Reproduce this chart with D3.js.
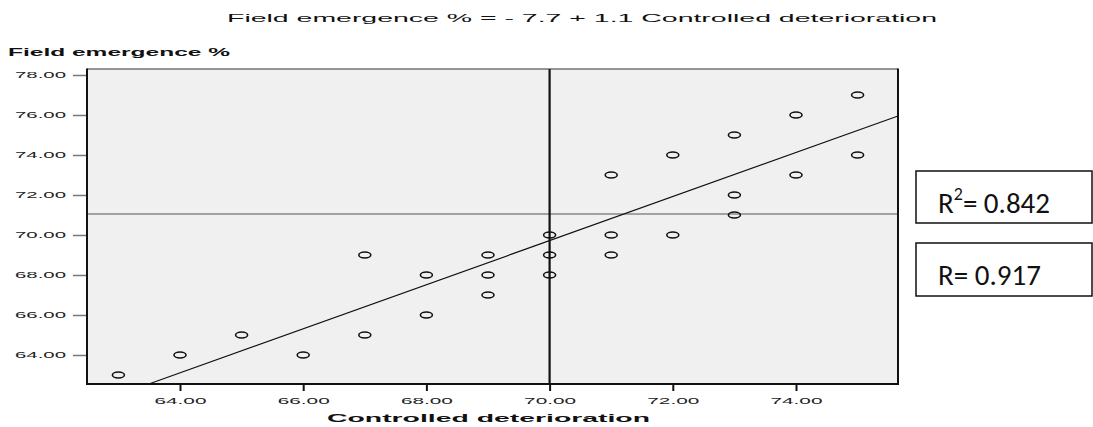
<!DOCTYPE html>
<html><head><meta charset="utf-8">
<script src="https://cdn.jsdelivr.net/npm/d3@7/dist/d3.min.js"></script>
<style>body{margin:0;background:#fff;}svg{display:block;}</style>
</head><body>
<svg id="c" width="1093" height="427"></svg>
<script>
const xValues = [63,64,65,66,67,67,68,68,69,69,69,70,70,70,71,71,71,72,72,73,73,73,74,74,75,75];
const yValues = [63,64,65,64,69,65,68,66,69,68,67,70,69,68,73,70,69,74,70,75,72,71,76,73,77,74];
const xTicks = [64,66,68,70,72,74];
const yTicks = [64,66,68,70,72,74,76,78];
const fitIntercept = -7.42, fitSlope = 1.102;
const meanX = 70.0, meanY = 71.05;
const titleText = "Field emergence % = - 7.7 + 1.1 Controlled deterioration";
const yLabel = "Field emergence %";
const xLabel = "Controlled deterioration";
const r2Text = "0.842", rText = "0.917";

const svg = d3.select("#c");
const L = 87, R = 898, T = 69, B = 384;
const x = d3.scaleLinear().domain([64, 74]).range([180, 796]);
const y = d3.scaleLinear().domain([64, 78]).range([355, 75]);
const xMin = x.invert(L), xMax = x.invert(R);

svg.append("rect").attr("x", L).attr("y", T).attr("width", R - L).attr("height", B - T).attr("fill", "#f0f0f0");

// mean lines
svg.append("line").attr("x1", L).attr("x2", R).attr("y1", y(meanY)).attr("y2", y(meanY)).attr("stroke", "#888").attr("stroke-width", 1.5);
svg.append("line").attr("x1", x(meanX)).attr("x2", x(meanX)).attr("y1", T).attr("y2", B).attr("stroke", "#111").attr("stroke-width", 2.2);

// fit line clipped to plot
const yBottom = y.invert(B);
const xStart = Math.max(xMin, (yBottom - fitIntercept) / fitSlope);
svg.append("line")
  .attr("x1", x(xStart)).attr("y1", y(fitIntercept + fitSlope * xStart))
  .attr("x2", x(xMax)).attr("y2", y(fitIntercept + fitSlope * xMax))
  .attr("stroke", "#111").attr("stroke-width", 1.2);

// points
svg.append("g").selectAll("ellipse").data(xValues.map((v, i) => [v, yValues[i]])).join("ellipse")
  .attr("cx", d => x(d[0])).attr("cy", d => y(d[1])).attr("rx", 6).attr("ry", 3)
  .attr("fill", "none").attr("stroke", "#111").attr("stroke-width", 1.6);

// frame
svg.append("line").attr("x1", L).attr("x2", R).attr("y1", T).attr("y2", T).attr("stroke", "#333").attr("stroke-width", 1.2);
svg.append("line").attr("x1", R).attr("x2", R).attr("y1", T - 0.5).attr("y2", B + 1).attr("stroke", "#111").attr("stroke-width", 2);
svg.append("line").attr("x1", L).attr("x2", L).attr("y1", T - 0.5).attr("y2", B + 1).attr("stroke", "#111").attr("stroke-width", 2);
svg.append("line").attr("x1", L - 1).attr("x2", R + 1).attr("y1", B).attr("y2", B).attr("stroke", "#111").attr("stroke-width", 2);

// y axis ticks
const yAxis = svg.append("g").attr("transform", `translate(${L - 1},0)`)
  .call(d3.axisLeft(y).tickValues(yTicks).tickSize(13).tickPadding(7).tickFormat(d3.format(".2f")));
yAxis.select(".domain").remove();
yAxis.selectAll(".tick line").attr("stroke", "#777").attr("stroke-width", 1.5);
yAxis.selectAll(".tick text").attr("font-family", "Liberation Sans, Arial, sans-serif").attr("font-size", 9)
  .attr("fill", "#222").attr("textLength", 51).attr("lengthAdjust", "spacingAndGlyphs");

// x axis ticks
const xAxis = svg.append("g").attr("transform", `translate(0,${B})`)
  .call(d3.axisBottom(x).tickValues(xTicks).tickSize(7).tickPadding(7).tickFormat(d3.format(".2f")));
xAxis.select(".domain").remove();
xAxis.selectAll(".tick line").attr("stroke", "#111").attr("stroke-width", 2);
xAxis.selectAll(".tick text").attr("font-family", "Liberation Sans, Arial, sans-serif").attr("font-size", 9)
  .attr("fill", "#222").attr("textLength", 52).attr("lengthAdjust", "spacingAndGlyphs");

// titles
svg.append("text").attr("x", 227).attr("y", 22).text(titleText)
  .attr("font-family", "Liberation Sans, Arial, sans-serif").attr("font-size", 11).attr("fill", "#111")
  .attr("textLength", 710).attr("lengthAdjust", "spacingAndGlyphs");
svg.append("text").attr("x", 8).attr("y", 56).text(yLabel)
  .attr("font-family", "Liberation Sans, Arial, sans-serif").attr("font-size", 10).attr("font-weight", "bold").attr("fill", "#111")
  .attr("textLength", 222).attr("lengthAdjust", "spacingAndGlyphs");
svg.append("text").attr("x", 327).attr("y", 422).text(xLabel)
  .attr("font-family", "Liberation Sans, Arial, sans-serif").attr("font-size", 11).attr("font-weight", "bold").attr("fill", "#111")
  .attr("textLength", 323).attr("lengthAdjust", "spacingAndGlyphs");

// R boxes
const boxes = [{y0: 171, h: 52, base: 213, sup: true, v: r2Text}, {y0: 243, h: 53, base: 285, sup: false, v: rText}];
boxes.forEach(b => {
  svg.append("rect").attr("x", 916).attr("y", b.y0).attr("width", 176).attr("height", b.h)
    .attr("fill", "#fff").attr("stroke", "#111").attr("stroke-width", 1.5);
  const t = svg.append("text").attr("x", 938).attr("y", b.base)
    .attr("font-family", "Carlito, Lato, 'Open Sans', sans-serif").attr("font-size", 29).attr("fill", "#111");
  t.append("tspan").text("R");
  if (b.sup) t.append("tspan").attr("dy", -13).attr("font-size", 18).text("2");
  t.append("tspan").attr("dy", b.sup ? 13 : 0).text("= " + b.v);
});
</script>
</body></html>
